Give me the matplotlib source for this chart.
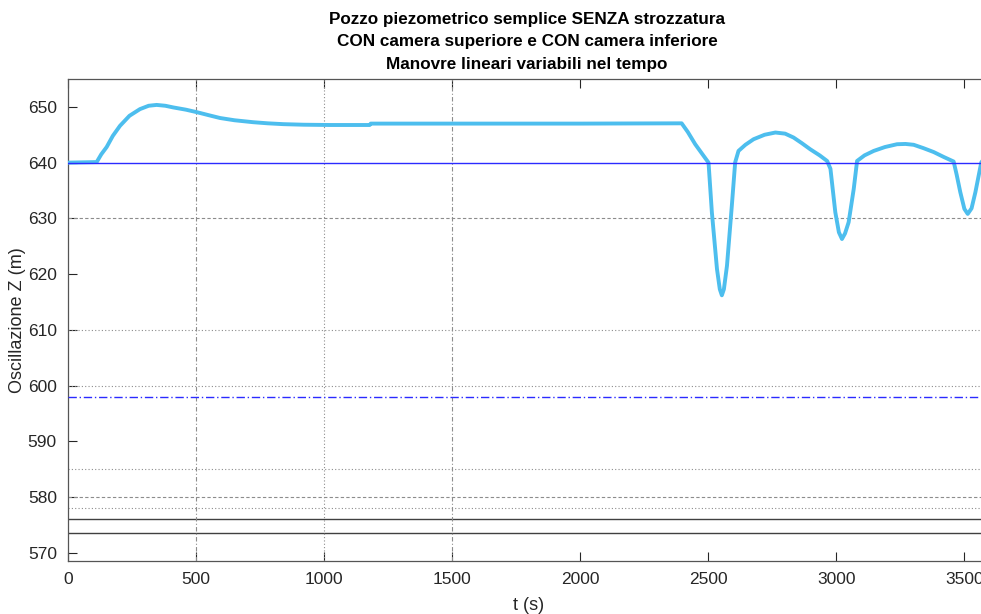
import numpy as np
import matplotlib
matplotlib.use("Agg")
import matplotlib.pyplot as plt

plt.rcParams['font.family'] = ['Liberation Sans', 'DejaVu Sans']

# oscillazione nel pozzo
t = [0, 112, 130, 151, 175, 203, 240, 281, 315, 346, 380, 411, 460, 503, 550,
     594, 650, 723, 780, 841, 920, 1023, 1100, 1178, 1182, 1500, 2000, 2396,
     2420, 2449, 2482, 2501, 2514, 2534, 2545, 2553, 2561, 2573, 2592, 2605,
     2618, 2645, 2677, 2720, 2762, 2800, 2833, 2865, 2898, 2935, 2964, 2977,
     2996, 3010, 3022, 3034, 3048, 3068, 3081, 3110, 3146, 3190, 3237, 3270,
     3302, 3340, 3380, 3420, 3458, 3470, 3484, 3500, 3513, 3528, 3543, 3566,
     3600]
z = [640.0, 640.1, 641.5, 642.8, 644.8, 646.6, 648.4, 649.6, 650.2, 650.35,
     650.2, 649.9, 649.5, 649.05, 648.5, 648.0, 647.6, 647.25, 647.05, 646.9,
     646.8, 646.75, 646.75, 646.75, 647.0, 647.0, 647.0, 647.05, 645.5, 643.3,
     641.2, 640.0, 631.1, 620.9, 617.3, 616.2, 617.3, 621.5, 632.3, 640.05,
     642.1, 643.2, 644.2, 645.0, 645.4, 645.2, 644.5, 643.5, 642.4, 641.3,
     640.3, 638.9, 631.1, 627.5, 626.3, 627.3, 629.3, 635.3, 640.3, 641.3,
     642.1, 642.8, 643.3, 643.35, 643.2, 642.6, 641.9, 641.0, 640.2, 637.8,
     634.7, 631.7, 630.8, 631.8, 634.7, 640.05, 642.0]

# quote di riferimento
z_statico = 640
z_blu = 598
quote_tratt = [630, 580]
quote_punt = [610, 600, 585, 578]
quote_cont = [576, 573.5]
# tempi delle manovre
t_dashdot = [500, 1500]
t_dot = [1000]

fig = plt.figure(figsize=(9.81, 6.14), dpi=100)
ax = fig.add_axes([68 / 981, 1 - 560.7 / 614, (990 - 68) / 981, (560.7 - 79) / 614])

for q in quote_tratt:
    ax.axhline(q, color='#8c8c8c', ls=(0, (3, 2)), lw=0.8)
for q in quote_punt:
    ax.axhline(q, color='#8c8c8c', ls=(0, (1, 2)), lw=0.8)
for q in quote_cont:
    ax.axhline(q, color='#404040', ls='-', lw=1.0)
for tt in t_dashdot:
    ax.axvline(tt, color='#8c8c8c', ls=(0, (4, 2, 1, 2)), lw=0.8)
for tt in t_dot:
    ax.axvline(tt, color='#8c8c8c', ls=(0, (1, 2)), lw=0.8)

ax.plot(t, z, color='#4DBEEE', lw=2.8, zorder=3)
ax.axhline(z_statico, color='#2b2bff', lw=1.0, zorder=4)
ax.axhline(z_blu, color='#2b2bff', ls=(0, (6, 2, 1, 2)), lw=1.0, zorder=4)

ax.set_xlim(0, 3600)
ax.set_ylim(568.6, 655)
ax.set_xticks(np.arange(0, 3600, 500))
ax.set_yticks(np.arange(570, 651, 10))
ax.tick_params(direction='in', length=6.5, width=0.8, top=True, right=True,
               labelsize=12.5, colors='#262626', pad=8)
for s in ax.spines.values():
    s.set_color('#555555')
    s.set_linewidth(0.9)

ax.set_xlabel('t (s)', fontsize=13, color='#262626', labelpad=7)
ax.set_ylabel('Oscillazione Z (m)', fontsize=13, color='#262626', labelpad=1)
fig.text(527 / 981, 1 - 12 / 614,
         'Pozzo piezometrico semplice SENZA strozzatura\n'
         'CON camera superiore e CON camera inferiore\n'
         'Manovre lineari variabili nel tempo',
         ha='center', va='top', fontsize=12.3, fontweight='bold',
         linespacing=1.62, color='black')

fig.savefig('out.png', dpi=100)
